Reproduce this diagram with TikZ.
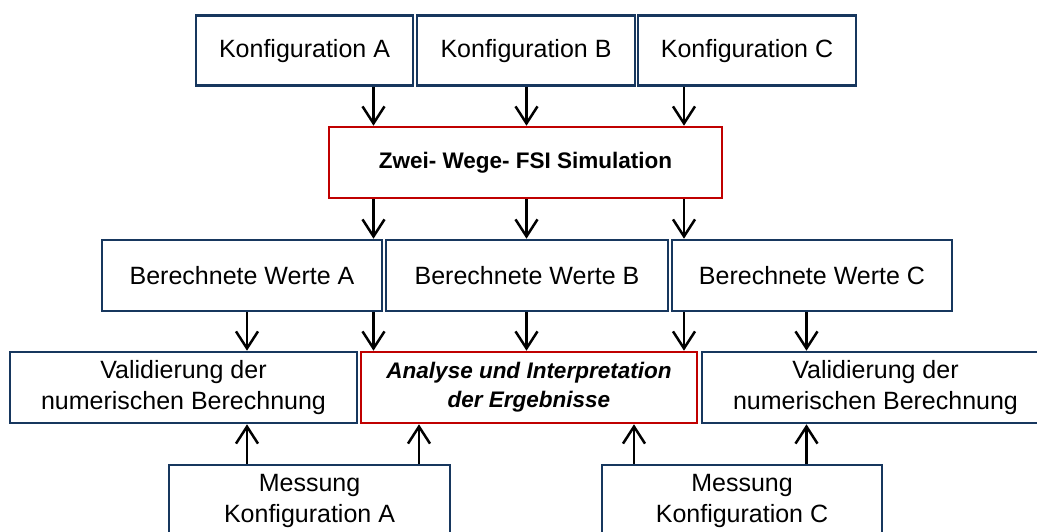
\documentclass[tikz,border=0pt]{standalone}
\usepackage{fontspec}
\setmainfont{Liberation Sans}
\usetikzlibrary{arrows.meta}
\definecolor{navy}{RGB}{23,55,94}
\definecolor{darkred}{RGB}{192,0,0}

\begin{document}
\begin{tikzpicture}[x=1pt,y=-1pt,
  box/.style={draw=navy, line width=2.6pt, fill=white, inner sep=0pt, align=center,
              font=\fontsize{25}{31}\selectfont},
  redbox/.style={box, draw=darkred, font=\fontsize{22.5}{29}\selectfont\bfseries},
  arr/.style={line width=2.5pt, -{Straight Barb[length=17pt,width=22pt]}}]

% canvas
\clip (0,0) rectangle (1037,532);
\fill[white] (0,0) rectangle (1037,532);

% top row: configurations
\node[box, minimum width=217pt, minimum height=70pt] (kA) at (304.5,50.7) {Konfiguration A};
\node[box, minimum width=218pt, minimum height=70pt] (kB) at (526,50.7)   {Konfiguration B};
\node[box, minimum width=218pt, minimum height=70pt] (kC) at (747,50.7)   {Konfiguration C};

% simulation
\node[redbox, minimum width=393pt, minimum height=71pt] (sim) at (525.5,162.5) {Zwei- Wege- FSI Simulation};

% computed values
\node[box, minimum width=280pt, minimum height=71pt] (bA) at (242,275.5) {Berechnete Werte A};
\node[box, minimum width=282pt, minimum height=71pt] (bB) at (527,275.5) {Berechnete Werte B};
\node[box, minimum width=280pt, minimum height=71pt] (bC) at (812,275.5) {Berechnete Werte C};

% validation and analysis
\node[box, minimum width=347pt, minimum height=71pt] (vA) at (183.5,387.5) {Validierung der\\numerischen Berechnung};
\node[redbox, font=\fontsize{22.5}{29}\selectfont\bfseries\itshape, minimum width=336pt, minimum height=71pt] (an) at (529,387.5) {Analyse und Interpretation\\der Ergebnisse};
\node[box, minimum width=347pt, minimum height=71pt] (vC) at (875.5,387.5) {Validierung der\\numerischen Berechnung};

% measurements
\node[box, minimum width=281pt, minimum height=72pt] (mA) at (309.5,501) {Messung\\Konfiguration A};
\node[box, minimum width=280pt, minimum height=72pt] (mC) at (742,501)   {Messung\\Konfiguration C};

% vertical guide positions for the connectors
\coordinate (xa) at (373.5,0);
\coordinate (xb) at (526.5,0);
\coordinate (xc) at (684,0);
\coordinate (xva) at (247,0);
\coordinate (xma) at (419,0);
\coordinate (xmc) at (634,0);
\coordinate (xvc) at (806.5,0);

% configurations -> simulation
\draw[arr] (kA.south -| xa) -- (sim.north -| xa);
\draw[arr] (kB.south -| xb) -- (sim.north -| xb);
\draw[arr] (kC.south -| xc) -- (sim.north -| xc);

% simulation -> computed values
\draw[arr] (sim.south -| xa) -- (bA.north -| xa);
\draw[arr] (sim.south -| xb) -- (bB.north -| xb);
\draw[arr] (sim.south -| xc) -- (bC.north -| xc);

% computed values -> validation / analysis
\draw[arr] (bA.south -| xva) -- (vA.north -| xva);
\draw[arr] (bA.south -| xa) -- (an.north -| xa);
\draw[arr] (bB.south -| xb) -- (an.north -| xb);
\draw[arr] (bC.south -| xc) -- (an.north -| xc);
\draw[arr] (bC.south -| xvc) -- (vC.north -| xvc);

% measurements -> validation / analysis
\draw[arr] (mA.north -| xva) -- (vA.south -| xva);
\draw[arr] (mA.north -| xma) -- (an.south -| xma);
\draw[arr] (mC.north -| xmc) -- (an.south -| xmc);
\draw[arr] (mC.north -| xvc) -- (vC.south -| xvc);
\end{tikzpicture}
\end{document}
